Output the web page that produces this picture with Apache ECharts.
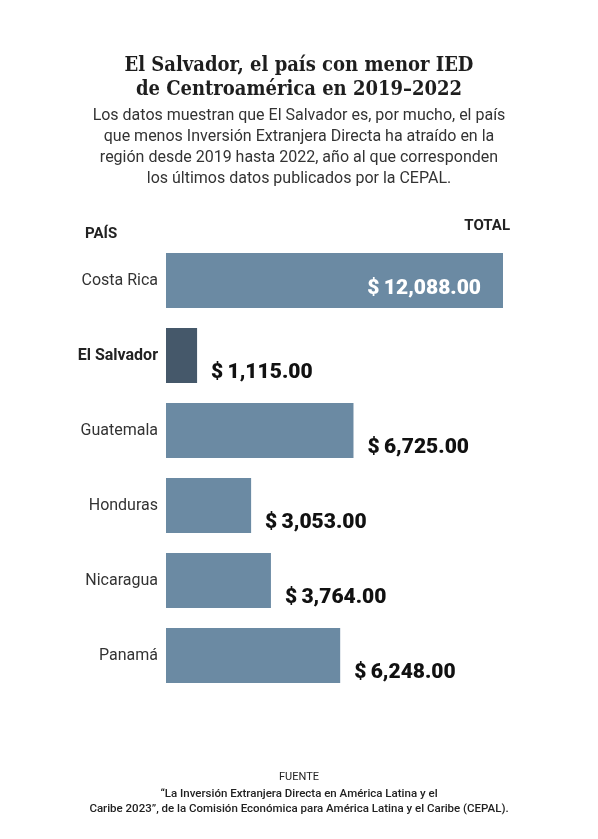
<!DOCTYPE html>
<html>
<head>
<meta charset="utf-8">
<script src="https://cdn.jsdelivr.net/npm/echarts@6/dist/echarts.min.js"></script>
<style>
  html, body { margin: 0; padding: 0; background: #fff; }
  #chart { width: 598px; height: 839px; }
</style>
</head>
<body>
<div id="chart"></div>
<script>
const countries = ['Costa Rica', 'El Salvador', 'Guatemala', 'Honduras', 'Nicaragua', 'Panamá'];
const ied = [12088, 1115, 6725, 3053, 3764, 6248];
const highlight = 'El Salvador';

const titleText = 'El Salvador, el país con menor IED\nde Centroamérica en 2019–2022';
const subText = 'Los datos muestran que El Salvador es, por mucho, el país\n' +
  'que menos Inversión Extranjera Directa ha atraído en la\n' +
  'región desde 2019 hasta 2022, año al que corresponden\n' +
  'los últimos datos publicados por la CEPAL.';
const sourceText = '“La Inversión Extranjera Directa en América Latina y el\n' +
  'Caribe 2023”, de la Comisión Económica para América Latina y el Caribe (CEPAL).';

const barColor = '#6b8aa3';
const darkColor = '#45586a';

const money = v => '$\u2009' + v.toLocaleString('en-US', { minimumFractionDigits: 2, maximumFractionDigits: 2 });

const chart = echarts.init(document.getElementById('chart'), null, { renderer: 'canvas' });

chart.setOption({
  backgroundColor: '#fff',
  animation: false,
  title: [
    {
      text: titleText, left: 'center', top: 49,
      textStyle: { fontFamily: 'DejaVu Serif Condensed', fontWeight: 'bold', fontSize: 20, color: '#1e1e1e', lineHeight: 24, align: 'center' }
    },
    {
      text: subText, left: 'center', top: 100,
      textStyle: { fontFamily: 'Roboto', fontWeight: 'normal', fontSize: 16, color: '#333', lineHeight: 21, align: 'center' }
    },
    {
      text: 'PAÍS', left: 80, top: 222,
      textStyle: { fontFamily: 'Roboto', fontWeight: 'bold', fontSize: 15, color: '#222' }
    },
    {
      text: 'TOTAL', right: 83, top: 214,
      textStyle: { fontFamily: 'Roboto', fontWeight: 'bold', fontSize: 15, color: '#222' }
    },
    {
      text: 'FUENTE', left: 'center', top: 767,
      textStyle: { fontFamily: 'Roboto', fontWeight: 'normal', fontSize: 11, color: '#222' }
    },
    {
      text: sourceText, left: 'center', top: 782,
      textStyle: { fontFamily: 'Roboto', fontWeight: 500, fontSize: 11.5, color: '#222', lineHeight: 15, align: 'center' }
    }
  ],
  grid: { left: 166, width: 337, top: 243, height: 450, containLabel: false },
  xAxis: {
    type: 'value', min: 0, max: 12088, show: false
  },
  yAxis: {
    type: 'category', data: countries, inverse: true,
    axisLine: { show: false }, axisTick: { show: false }, splitLine: { show: false },
    axisLabel: {
      margin: 8, fontFamily: 'Roboto', fontSize: 16, color: '#333',
      formatter: v => v === highlight ? '{b|' + v + '}' : v,
      rich: { b: { fontFamily: 'Roboto', fontWeight: 'bold', fontSize: 16, color: '#222' } }
    }
  },
  series: [{
    type: 'bar',
    barCategoryGap: '26.7%',
    data: ied.map((v, i) => {
      const inside = v === Math.max(...ied);
      return {
        value: v,
        itemStyle: { color: countries[i] === highlight ? darkColor : barColor },
        label: inside
          ? { position: 'insideRight', offset: [-17, 8], color: '#fff' }
          : { position: 'right', offset: [9, 17], color: '#111' }
      };
    }),
    label: {
      show: true, fontFamily: 'Roboto', fontWeight: 900, fontSize: 21,
      formatter: p => money(p.value)
    }
  }]
});
</script>
</body>
</html>
